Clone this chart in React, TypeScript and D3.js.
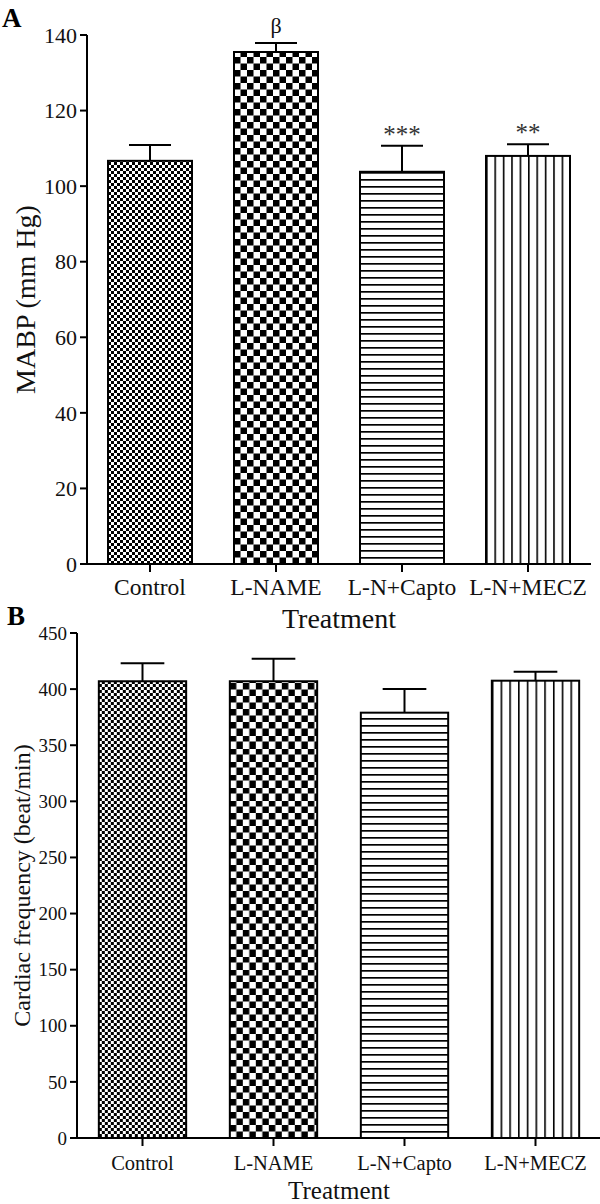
import React from 'react';
import * as d3 from 'd3';

// values
const categories = ['Control', 'L-NAME', 'L-N+Capto', 'L-N+MECZ'];
const mabpMeans = [106.7, 135.5, 103.8, 108.0];
const mabpSem = [4.2, 2.4, 6.9, 3.1];
const mabpMarks = ['', 'β', '***', '**'];
const mabpTicks = [0, 20, 40, 60, 80, 100, 120, 140];

const hrMeans = [407, 407, 379, 407.5];
const hrSem = [16, 20, 21, 8];
const hrTicks = [0, 50, 100, 150, 200, 250, 300, 350, 400, 450];

const patternKinds = ['fine', 'coarse', 'hlines', 'vlines'];
const FONT = '"Liberation Serif", "Times New Roman", serif';

type PanelProps = {
  id: string;
  letter: string;
  means: number[];
  sem: number[];
  marks?: string[];
  ticks: number[];
  yMax: number;
  left: number;
  right: number;
  top: number;
  bottom: number;
  yLabel: string;
  yLabelX: number;
  yLabelSize: number;
  tickSize: number;
  catSize: number;
  catY: number;
  titleSize: number;
  titleY: number;
  letterX: number;
  letterY: number;
};

function Panel(p: PanelProps) {
  const x = d3.scaleBand<string>().domain(categories).range([p.left, p.right]).padding(0);
  const y = d3.scaleLinear().domain([0, p.yMax]).range([p.bottom, p.top]);
  const step = x.bandwidth();
  const bw = step * 2 / 3;
  const cx = (c: string) => (x(c) as number) + step / 2;

  return (
    <g>
      <defs>
        {categories.map((c, i) => {
          const bx = cx(c) - bw / 2;
          const kind = patternKinds[i];
          const pid = `${p.id}-${i}`;
          if (kind === 'fine') {
            return (
              <pattern key={pid} id={pid} patternUnits="userSpaceOnUse" x={bx} y={0} width={6} height={6}>
                <rect width={6} height={6} fill="#fff" />
                <rect x={0} y={0} width={3} height={3} fill="#000" />
                <rect x={3} y={3} width={3} height={3} fill="#000" />
              </pattern>
            );
          }
          if (kind === 'coarse') {
            return (
              <pattern key={pid} id={pid} patternUnits="userSpaceOnUse" x={bx} y={p.bottom} width={13} height={13}>
                <rect width={13} height={13} fill="#fff" />
                <rect x={0} y={0} width={6.5} height={6.5} fill="#000" />
                <rect x={6.5} y={6.5} width={6.5} height={6.5} fill="#000" />
              </pattern>
            );
          }
          if (kind === 'hlines') {
            return (
              <pattern key={pid} id={pid} patternUnits="userSpaceOnUse" x={0} y={p.bottom} width={10} height={7}>
                <rect width={10} height={7} fill="#fff" />
                <rect x={0} y={0} width={10} height={1.7} fill="#000" />
              </pattern>
            );
          }
          return (
            <pattern key={pid} id={pid} patternUnits="objectBoundingBox" x={0} y={0} width={0.1} height={1}>
              <rect width={20} height={1000} fill="#fff" />
              <rect x={0} y={0} width={1.6} height={1000} fill="#000" />
            </pattern>
          );
        })}
      </defs>

      {/* bars */}
      {categories.map((c, i) => (
        <rect
          key={c}
          x={cx(c) - bw / 2}
          y={y(p.means[i])}
          width={bw}
          height={p.bottom - y(p.means[i])}
          fill={`url(#${p.id}-${i})`}
          stroke="#000"
          strokeWidth={2}
        />
      ))}

      {/* error bars (upper only) */}
      {categories.map((c, i) => {
        const top = y(p.means[i] + p.sem[i]);
        return (
          <g key={c + '-err'} stroke="#000" strokeWidth={2}>
            <line x1={cx(c)} x2={cx(c)} y1={y(p.means[i])} y2={top} />
            <line x1={cx(c) - bw / 4} x2={cx(c) + bw / 4} y1={top} y2={top} />
          </g>
        );
      })}

      {/* significance marks */}
      {p.marks &&
        categories.map((c, i) =>
          p.marks![i] ? (
            <text
              key={c + '-mark'}
              x={cx(c)}
              y={y(p.means[i] + p.sem[i]) - (p.marks![i] === 'β' ? 10 : 3)}
              textAnchor="middle"
              fontFamily={FONT}
              fontSize={p.marks![i] === 'β' ? 22 : 25}
              fill={p.marks![i] === 'β' ? '#111' : '#333'}
            >
              {p.marks![i]}
            </text>
          ) : null
        )}

      {/* y axis */}
      <line x1={p.left} x2={p.left} y1={y(p.yMax)} y2={p.bottom} stroke="#000" strokeWidth={2} />
      {p.ticks.map((t) => (
        <g key={t}>
          <line x1={p.left - 7} x2={p.left} y1={y(t)} y2={y(t)} stroke="#000" strokeWidth={2} />
          <text
            x={p.left - 10}
            y={y(t)}
            dy="0.35em"
            textAnchor="end"
            fontFamily={FONT}
            fontSize={p.tickSize}
            fill="#111"
          >
            {t}
          </text>
        </g>
      ))}

      {/* x axis */}
      <line x1={p.left - 1} x2={p.right} y1={p.bottom} y2={p.bottom} stroke="#000" strokeWidth={2} />
      {categories.map((c) => (
        <g key={c + '-tick'}>
          <line x1={cx(c)} x2={cx(c)} y1={p.bottom} y2={p.bottom + 8} stroke="#000" strokeWidth={2} />
          <text x={cx(c)} y={p.catY} textAnchor="middle" fontFamily={FONT} fontSize={p.catSize} fill="#111">
            {c}
          </text>
        </g>
      ))}

      <text
        x={(p.left + p.right) / 2}
        y={p.titleY}
        textAnchor="middle"
        fontFamily={FONT}
        fontSize={p.titleSize}
        fill="#111"
      >
        Treatment
      </text>

      <text
        transform={`translate(${p.yLabelX},${(y(p.yMax) + p.bottom) / 2}) rotate(-90)`}
        textAnchor="middle"
        fontFamily={FONT}
        fontSize={p.yLabelSize}
        fill="#111"
      >
        {p.yLabel}
      </text>

      <text x={p.letterX} y={p.letterY} fontFamily={FONT} fontWeight="bold" fontSize={27} fill="#000">
        {p.letter}
      </text>
    </g>
  );
}

export default function App() {
  return (
    <div style={{ position: 'absolute', left: 0, top: 0, width: 600, height: 1204, background: '#fff' }}>
      <svg width={600} height={1204} viewBox="0 0 600 1204" style={{ display: 'block' }}>
        <rect width={600} height={1204} fill="#fff" />
        <Panel
          id="pa"
          letter="A"
          means={mabpMeans}
          sem={mabpSem}
          marks={mabpMarks}
          ticks={mabpTicks}
          yMax={140}
          left={87}
          right={591}
          top={35}
          bottom={564}
          yLabel="MABP (mm Hg)"
          yLabelX={35}
          yLabelSize={28}
          tickSize={22}
          catSize={23.5}
          catY={595}
          titleSize={28}
          titleY={628}
          letterX={2}
          letterY={27}
        />
        <Panel
          id="pb"
          letter="B"
          means={hrMeans}
          sem={hrSem}
          ticks={hrTicks}
          yMax={450}
          left={77}
          right={601}
          top={633}
          bottom={1138}
          yLabel="Cardiac frequency (beat/min)"
          yLabelX={30}
          yLabelSize={24}
          tickSize={19}
          catSize={20.5}
          catY={1170}
          titleSize={25}
          titleY={1199}
          letterX={7}
          letterY={625}
        />
      </svg>
    </div>
  );
}
